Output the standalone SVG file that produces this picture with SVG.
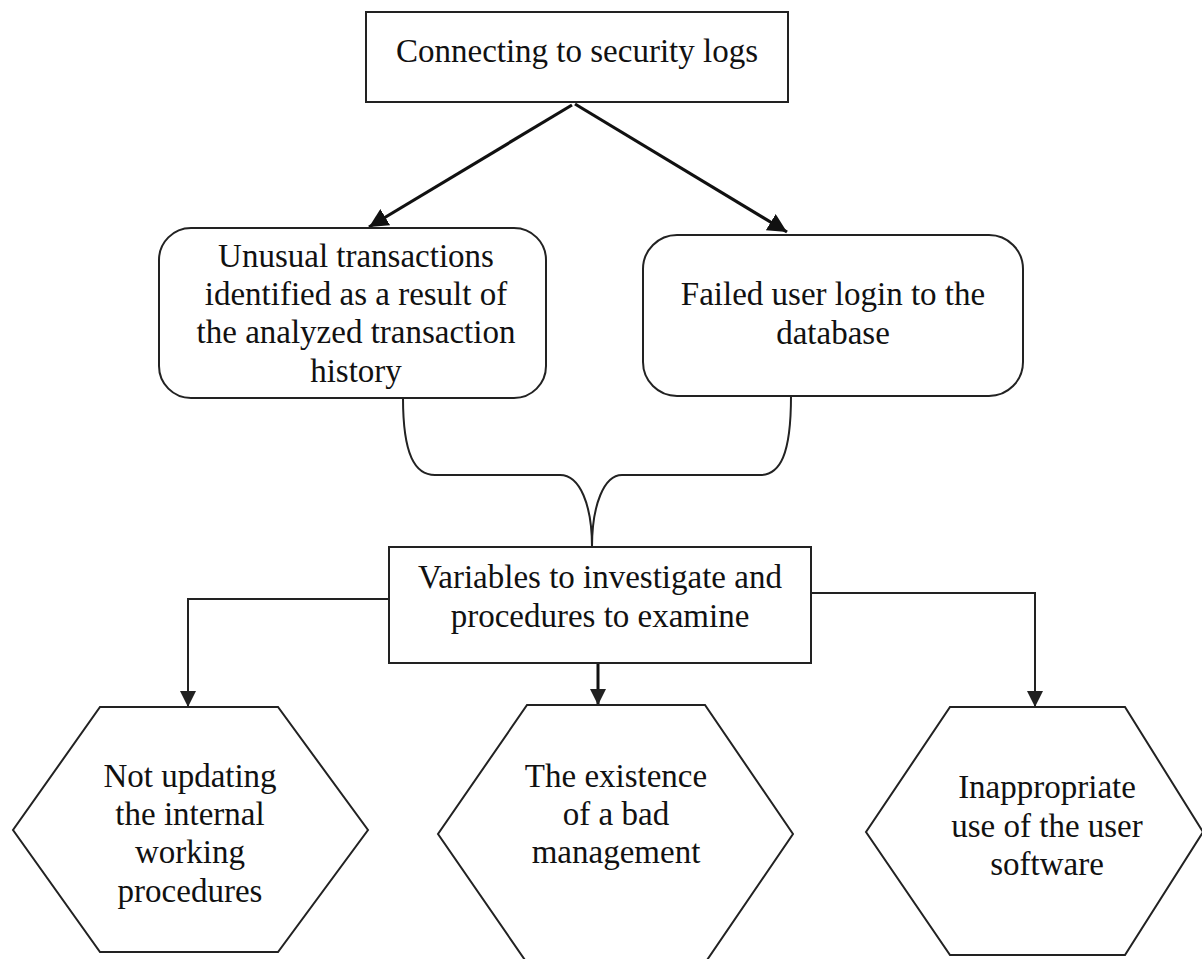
<svg xmlns="http://www.w3.org/2000/svg" width="1202" height="959" viewBox="0 0 1202 959">
  <style>
    .box { fill: #ffffff; stroke: #222222; stroke-width: 2; }
    .lbl { font-family: "Liberation Serif", "Times New Roman", serif; font-size: 33px; fill: #111111; text-anchor: middle; }
    .edge { fill: none; stroke: #222222; stroke-width: 2; }
    .edge-bold { fill: none; stroke: #111111; stroke-width: 3.2; }
    .edge-mid { fill: none; stroke: #111111; stroke-width: 3; }
  </style>
  <defs>
    <marker id="tri" markerWidth="16" markerHeight="16" refX="16" refY="8" orient="auto" markerUnits="userSpaceOnUse">
      <path d="M0,0 L16,8 L0,16 Z" fill="#222222"/>
    </marker>
    <marker id="tri-bold" markerWidth="19" markerHeight="19" refX="19" refY="9.5" orient="auto" markerUnits="userSpaceOnUse">
      <path d="M0,0 L19,9.5 L0,19 Z" fill="#111111"/>
    </marker>
  </defs>

  <rect width="1202" height="959" fill="#ffffff"/>

  <!-- connectors -->
  <g id="connectors">
    <line class="edge-bold" x1="572" y1="105" x2="369" y2="227" marker-end="url(#tri-bold)"/>
    <line class="edge-bold" x1="575" y1="104" x2="787" y2="232" marker-end="url(#tri-bold)"/>
    <path class="edge" d="M403,398 C403,455 415,475 435,475 L560,475 C580,475 592,505 592,547"/>
    <path class="edge" d="M791,396 C791,455 780,475 760,475 L622,475 C604,475 592,505 592,547"/>
    <polyline class="edge" points="389,599 188,599 188,707" marker-end="url(#tri)"/>
    <line class="edge-mid" x1="598" y1="663" x2="598" y2="705" marker-end="url(#tri)"/>
    <polyline class="edge" points="811,593 1035,593 1035,707" marker-end="url(#tri)"/>
  </g>

  <!-- nodes -->
  <g id="node-security-logs">
    <rect class="box" x="366" y="12" width="422" height="90"/>
    <text class="lbl" x="577" y="62">Connecting to security logs</text>
  </g>

  <g id="node-unusual-transactions">
    <rect class="box" x="159" y="228" width="387" height="170" rx="32" ry="32"/>
    <text class="lbl" x="356" y="267">Unusual transactions</text>
    <text class="lbl" x="356" y="305">identified as a result of</text>
    <text class="lbl" x="356" y="343">the analyzed transaction</text>
    <text class="lbl" x="356" y="382">history</text>
  </g>

  <g id="node-failed-login">
    <rect class="box" x="643" y="235" width="380" height="161" rx="34" ry="34"/>
    <text class="lbl" x="833" y="305">Failed user login to the</text>
    <text class="lbl" x="833" y="344">database</text>
  </g>

  <g id="node-variables">
    <rect class="box" x="389" y="547" width="422" height="116"/>
    <text class="lbl" x="600" y="588">Variables to investigate and</text>
    <text class="lbl" x="600" y="627">procedures to examine</text>
  </g>

  <g id="node-not-updating">
    <polygon class="box" points="100,707 278,707 368,830 278,952 100,952 13,830"/>
    <text class="lbl" x="190" y="787">Not updating</text>
    <text class="lbl" x="190" y="825">the internal</text>
    <text class="lbl" x="190" y="863">working</text>
    <text class="lbl" x="190" y="902">procedures</text>
  </g>

  <g id="node-bad-management">
    <polygon class="box" points="527,705 705,705 793,834 705,963 527,963 438,834"/>
    <text class="lbl" x="616" y="787">The existence</text>
    <text class="lbl" x="616" y="825">of a bad</text>
    <text class="lbl" x="616" y="863">management</text>
  </g>

  <g id="node-inappropriate-use">
    <polygon class="box" points="950,707 1125,707 1203,832 1125,955 950,955 866,832"/>
    <text class="lbl" x="1047" y="798">Inappropriate</text>
    <text class="lbl" x="1047" y="837">use of the user</text>
    <text class="lbl" x="1047" y="875">software</text>
  </g>
</svg>
